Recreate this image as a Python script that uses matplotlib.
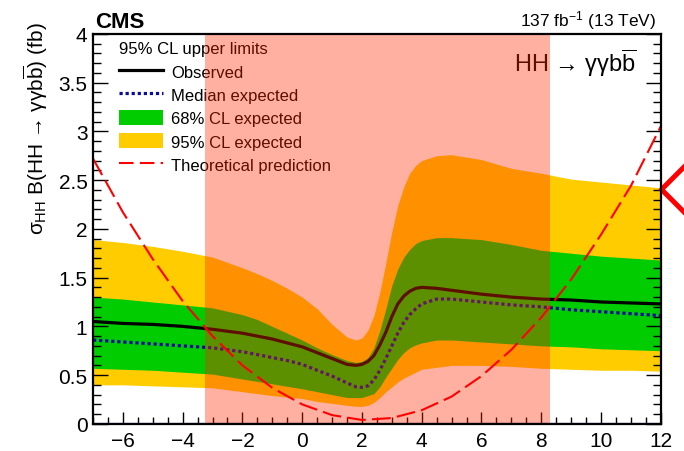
import numpy as np
import matplotlib
matplotlib.use('Agg')
import matplotlib.pyplot as plt
from matplotlib.lines import Line2D
from matplotlib.patches import Patch
from matplotlib.path import Path

plt.rcParams['font.family'] = ['Liberation Sans', 'DejaVu Sans']
plt.rcParams['mathtext.fontset'] = 'custom'
plt.rcParams['mathtext.rm'] = 'Liberation Sans'
plt.rcParams['mathtext.it'] = 'Liberation Sans'
plt.rcParams['mathtext.bf'] = 'Liberation Sans:bold'

# ── data ──
kl = [-7, -6, -5, -4, -3, -2, -1.5, -1, -0.5, 0, 0.5, 1, 1.5, 1.8, 2.0, 2.2, 2.4, 2.6, 2.8,
      3.0, 3.2, 3.4, 3.6, 3.8, 4.0, 4.5, 5, 6, 7, 8, 9, 10, 11, 12]
observed = [1.05, 1.03, 1.02, 1.00, 0.97, 0.93, 0.90, 0.87, 0.83, 0.79, 0.73, 0.67, 0.61, 0.60,
            0.61, 0.64, 0.70, 0.81, 0.94, 1.10, 1.23, 1.31, 1.36, 1.39, 1.40, 1.39, 1.37, 1.33,
            1.30, 1.28, 1.27, 1.25, 1.24, 1.23]
median = [0.86, 0.84, 0.82, 0.80, 0.78, 0.74, 0.71, 0.68, 0.65, 0.61, 0.55, 0.49, 0.42, 0.38,
          0.375, 0.39, 0.45, 0.55, 0.67, 0.80, 0.93, 1.04, 1.12, 1.18, 1.23, 1.28, 1.28, 1.25,
          1.22, 1.20, 1.17, 1.15, 1.13, 1.11]
up95 = [1.89, 1.86, 1.82, 1.77, 1.71, 1.60, 1.54, 1.47, 1.39, 1.30, 1.18, 1.02, 0.89, 0.86,
        0.88, 0.96, 1.11, 1.35, 1.65, 1.97, 2.24, 2.43, 2.57, 2.65, 2.70, 2.75, 2.76, 2.71,
        2.62, 2.57, 2.51, 2.48, 2.45, 2.42]
lo95 = [0.40, 0.40, 0.39, 0.38, 0.37, 0.33, 0.31, 0.29, 0.275, 0.26, 0.23, 0.21, 0.19, 0.18,
        0.18, 0.19, 0.22, 0.27, 0.33, 0.38, 0.43, 0.47, 0.50, 0.53, 0.56, 0.58, 0.60, 0.60,
        0.59, 0.57, 0.56, 0.55, 0.55, 0.54]
up68 = [1.30, 1.28, 1.25, 1.22, 1.19, 1.12, 1.07, 1.00, 0.93, 0.86, 0.78, 0.71, 0.65, 0.63,
        0.64, 0.68, 0.78, 0.96, 1.18, 1.42, 1.59, 1.71, 1.79, 1.85, 1.88, 1.91, 1.91, 1.89,
        1.84, 1.78, 1.75, 1.72, 1.70, 1.68]
lo68 = [0.57, 0.56, 0.55, 0.53, 0.51, 0.46, 0.435, 0.41, 0.385, 0.36, 0.33, 0.30, 0.27, 0.27,
        0.27, 0.29, 0.31, 0.38, 0.48, 0.57, 0.66, 0.73, 0.78, 0.81, 0.83, 0.86, 0.86, 0.84,
        0.82, 0.80, 0.79, 0.77, 0.76, 0.75]

kl_theory = list(range(-7, 13))
theory = [2.72, 2.17, 1.69, 1.26, 0.90, 0.60, 0.37, 0.20, 0.09, 0.04, 0.06, 0.14, 0.28,
          0.49, 0.76, 1.09, 1.48, 1.94, 2.44, 3.05]

excluded = (-3.26, 8.30)   # excluded kappa_lambda interval
marker_y = 2.41            # red pointer on the right edge

# ── figure ──
fig = plt.figure(figsize=(6.84, 4.52), dpi=100)
ax = fig.add_axes([0.136, 0.060, 0.830, 0.863])

ax.fill_between(kl, lo95, up95, color='#ffcc00', lw=0, zorder=1)
ax.fill_between(kl, lo68, up68, color='#00cc00', lw=0, zorder=1.1)
ax.plot(kl, observed, color='black', lw=2.3, zorder=3, label='Observed')
ax.plot(kl, median, color='#0a0a9e', lw=2.3, ls=(0, (1, 0.9)), zorder=3, label='Median expected')
ax.axhline(0, color='#1c1ca8', lw=1.6, zorder=3)

# excluded region drawn on top of everything except the theory curve
ax.axvspan(excluded[0], excluded[1], color='#ff2900', alpha=0.37, lw=0, zorder=6)
ax.plot(kl_theory, theory, color='#ff0000', lw=1.5, ls=(0, (9, 3)), zorder=7)

# pointer on the right
chevron = Path([(1, 1), (0, 0), (1, -1)], [Path.MOVETO, Path.LINETO, Path.LINETO])
ax.plot([kl[-1]], [marker_y], marker=chevron, ms=36, mew=3.6, mec='#ff0000',
        mfc='none', clip_on=False, zorder=8)

ax.set_xlim(-7, 12)
ax.set_ylim(0, 4)
ax.set_xticks(np.arange(-6, 13, 2))
ax.set_xticks(np.arange(-7, 12.01, 0.5), minor=True)
ax.set_yticks(np.arange(0, 4.01, 0.5))
ax.set_yticklabels(['0', '0.5', '1', '1.5', '2', '2.5', '3', '3.5', '4'])
ax.set_yticks(np.arange(0, 4.01, 0.1), minor=True)
ax.tick_params(axis='both', which='both', direction='in', labelsize=15, width=1.0)
ax.tick_params(axis='y', which='major', length=11, right=True, pad=4)
ax.tick_params(axis='y', which='minor', length=6, right=True)
ax.tick_params(axis='x', which='major', length=8.5, top=False, pad=5)
ax.tick_params(axis='x', which='minor', length=5, top=False)
for s in ax.spines.values():
    s.set_linewidth(1.6)
    s.set_zorder(9)

# legend
handles = [
    Line2D([], [], color='black', lw=2.3),
    Line2D([], [], color='#0a0a9e', lw=2.3, ls=(0, (1, 0.9))),
    Patch(facecolor='#00cc00', edgecolor='none'),
    Patch(facecolor='#ffcc00', edgecolor='none'),
    Line2D([], [], color='#ff0000', lw=1.5, ls=(0, (7, 3))),
]
labels = ['Observed', 'Median expected', '68% CL expected', '95% CL expected',
          'Theoretical prediction']
leg = ax.legend(handles, labels, title='95% CL upper limits', loc='upper left',
                bbox_to_anchor=(0.022, 1.015), frameon=False, fontsize=12, title_fontsize=12,
                alignment='left', handlelength=2.65, handleheight=1.0, handletextpad=0.5,
                labelspacing=0.43, borderpad=0.3)
leg.set_zorder(4)

ax.text(0.957, 0.905, 'HH → γγb$\\overline{\\mathrm{b}}$',
        transform=ax.transAxes, ha='right', va='baseline', fontsize=17, zorder=4)

fig.text(0.139, 0.938, 'CMS', fontsize=16, fontweight='bold', ha='left', va='baseline')
fig.text(0.960, 0.941, r'137 fb$^{-1}$ (13 TeV)', fontsize=12.5, ha='right', va='baseline')
fig.text(0.052, 0.95,
         '$\\sigma_{\\mathrm{HH}}$ B(HH → γγb$\\overline{\\mathrm{b}}$) (fb)',
         rotation=90, ha='center', va='top', fontsize=15)

fig.savefig('out.png', dpi=100)
